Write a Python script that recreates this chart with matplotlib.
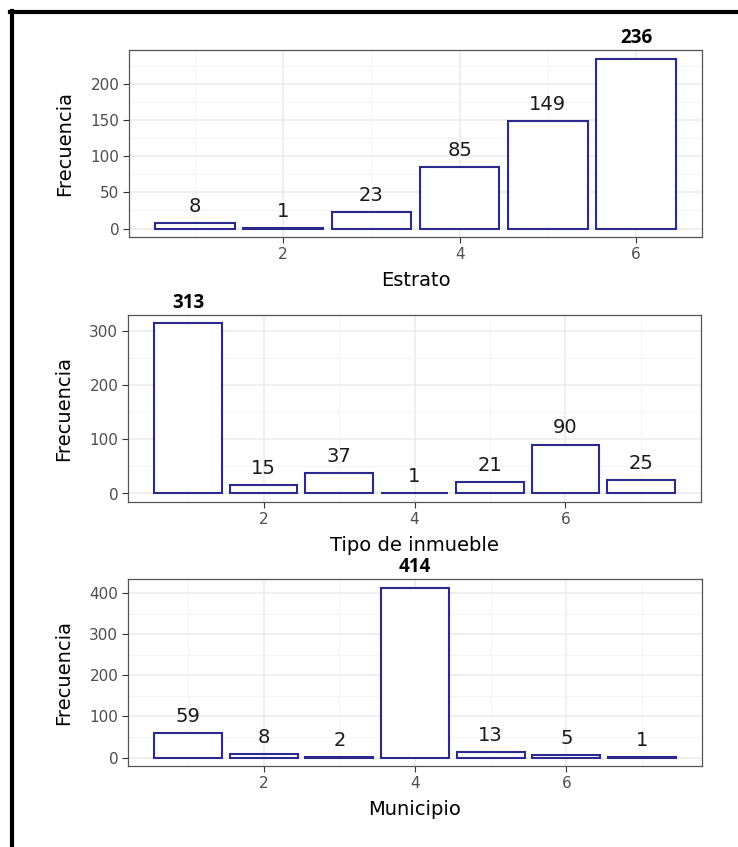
import matplotlib
matplotlib.use('Agg')
import matplotlib.pyplot as plt
from matplotlib.lines import Line2D
import numpy as np

#-------------------------------
# data

estrato_n = [8, 1, 23, 85, 149, 236]
tipo_n = [313, 15, 37, 1, 21, 90, 25]
municipio_n = [59, 8, 2, 414, 13, 5, 1]

xlabels = ['Estrato', 'Tipo de inmueble', 'Municipio']
ylabel = 'Frecuencia'
ystep = [50, 100, 100]

edge = '#2a2a8e'


#-------------------------------
# one ggplot-like (theme_bw) panel

def panel(ax, counts, xlabel, step):
    x = np.arange(1, len(counts) + 1)
    ax.bar(x, counts, width=0.9, color='white', edgecolor=edge, linewidth=1.5, zorder=3)

    # ggplot default expansion of 5 %
    lo, hi = 0.55, len(counts) + 0.45
    pad = (hi - lo) * 0.05
    ax.set_xlim(lo - pad, hi + pad)
    top = max(counts)
    ax.set_ylim(-top * 0.05, top * 1.05)

    ax.set_xticks([2, 4, 6])
    ax.set_xticks(list(range(1, len(counts) + 1, 2)), minor=True)
    yt = np.arange(0, top + 1, step)
    ax.set_yticks(yt)
    ym = yt + step / 2.0
    ax.set_yticks(ym[ym < top * 1.05], minor=True)

    ax.grid(which='major', color='#ebebeb', linewidth=1.1, zorder=0)
    ax.grid(which='minor', color='#f3f3f3', linewidth=0.6, zorder=0)
    ax.set_axisbelow(True)
    ax.tick_params(which='minor', length=0)
    ax.tick_params(which='major', length=4.5, width=0.8, color='#333333',
                   labelcolor='#4d4d4d', labelsize=11, pad=2.5)
    for s in ax.spines.values():
        s.set_color('#555555')
        s.set_linewidth(0.9)

    ax.set_xlabel(xlabel, fontsize=14, color='black')
    ax.set_ylabel(ylabel, fontsize=14, color='black')
    ax.xaxis.set_label_coords(0.5, -0.18)
    ax.yaxis.set_label_coords(-0.095, 0.5)

    # value labels, the largest one in bold
    for xi, c in zip(x, counts):
        if c == top:
            ax.annotate(str(c), (xi, c), xytext=(0, 15), textcoords='offset points',
                        ha='center', va='center', fontsize=13.5, fontweight='bold',
                        family='Open Sans', color='black', annotation_clip=False)
        else:
            ax.annotate(str(c), (xi, c), xytext=(0, 12), textcoords='offset points',
                        ha='center', va='center', fontsize=14, color='#1a1a1a')


fig = plt.figure(figsize=(7.38, 8.47), dpi=100)
W, H = 738.0, 847.0
boxes = [(129, 702, 50, 237), (128, 701, 315, 502), (128, 702, 579, 766)]
data = [estrato_n, tipo_n, municipio_n]

for (l, r, t, b), counts, xl, st in zip(boxes, data, xlabels, ystep):
    ax = fig.add_axes([l / W, 1 - b / H, (r - l) / W, (b - t) / H])
    panel(ax, counts, xl, st)

# black frame of the screenshot (top and left only)
fig.add_artist(Line2D([10 / W, 1], [1 - 12.5 / H, 1 - 12.5 / H], color='black', linewidth=3))
fig.add_artist(Line2D([12 / W, 12 / W], [0, 1 - 11 / H], color='black', linewidth=3))

fig.savefig('out.png', dpi=100, facecolor='white')
